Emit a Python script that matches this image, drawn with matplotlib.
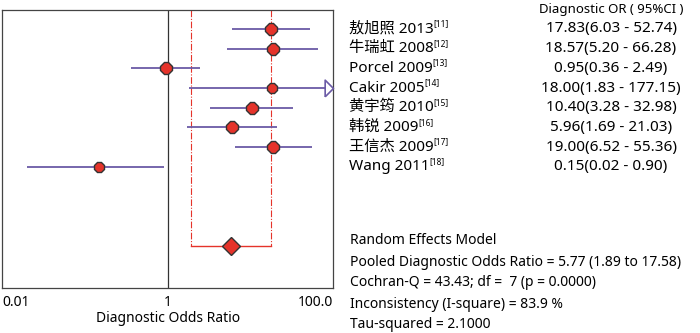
import matplotlib
matplotlib.use("Agg")
import matplotlib.pyplot as plt
import matplotlib.transforms as mtransforms

plt.rcParams['font.family'] = ['Noto Sans', 'Noto Sans CJK SC', 'DejaVu Sans']

# study data
studies = ["敖旭照 2013", "牛瑞虹 2008", "Porcel 2009", "Cakir 2005",
           "黄宇筠 2010", "韩锐 2009", "王信杰 2009", "Wang 2011"]
refs = ["[11]", "[12]", "[13]", "[14]", "[15]", "[16]", "[17]", "[18]"]
dor = [17.83, 18.57, 0.95, 18.00, 10.40, 5.96, 19.00, 0.15]
lo = [6.03, 5.20, 0.36, 1.83, 3.28, 1.69, 6.52, 0.02]
hi = [52.74, 66.28, 2.49, 177.15, 32.98, 21.03, 55.36, 0.90]
weights = [12, 12, 12, 10, 13, 12, 12, 10]

pooled = 5.77
pooled_lo = 1.89
pooled_hi = 17.58

summary_lines = [
    "Random Effects Model",
    "Pooled Diagnostic Odds Ratio = 5.77 (1.89 to 17.58)",
    "Cochran-Q = 43.43; df =  7 (p = 0.0000)",
    "Inconsistency (I-square) = 83.9 %",
    "Tau-squared = 2.1000",
]

xmin, xmax = 0.01, 100
ci_color = "#6b5ba6"
red = "#e5332a"

fig = plt.figure(figsize=(7, 3.33), dpi=100)
ax = fig.add_axes([0.003, 0.135, 0.473, 0.835])
ax.set_xscale("log")
ax.set_xlim(xmin, xmax)
ax.set_ylim(13.15, -0.96)

# null line
ax.axvline(1, color="#333333", lw=0.9)

pooled_row = 11
# pooled CI bracket
ax.plot([pooled_lo, pooled_lo], [-0.96, pooled_row], color=red, lw=0.8, ls=(0, (6, 1.5, 1, 1.5)))
ax.plot([pooled_hi, pooled_hi], [-0.96, pooled_row], color=red, lw=0.8, ls=(0, (6, 1.5, 1, 1.5)))
ax.plot([pooled_lo, pooled_hi], [pooled_row, pooled_row], color=red, lw=1.0)
ax.plot([pooled], [pooled_row], marker="D", ms=9.5, mfc=red, mec="#333333", mew=1.0)

for i in range(len(studies)):
    right = min(hi[i], xmax)
    ax.plot([lo[i], right], [i, i], color=ci_color, lw=1.3, solid_capstyle="butt")
    if hi[i] > xmax:
        ax.plot([xmax], [i], marker=[(-1, -1), (0, 0), (-1, 1), (-1, -1)], ms=12,
                mfc="white", mec=ci_color, mew=1.2, clip_on=False, zorder=4)
    ax.plot([dor[i]], [i], marker="8", ms=weights[i] * 0.72, mfc=red,
            mec="#333333", mew=1.0, zorder=5)

ax.set_yticks([])
ax.set_xticks([0.01, 1, 100])
ax.set_xticklabels(["0.01", "1", "100.0"], fontsize=10)
ax.minorticks_off()
ax.tick_params(axis="x", length=0, pad=5)
labs = ax.get_xticklabels()
labs[0].set_ha("left")
labs[2].set_ha("right")
ax.set_xlabel("Diagnostic Odds Ratio", fontsize=10, labelpad=1)
for s in ax.spines.values():
    s.set_color("#444444")
    s.set_linewidth(0.9)

# text columns on the right
trans = mtransforms.blended_transform_factory(fig.transFigure, ax.transData)
name_x = 349 / 700
val_x = 611 / 700
ax.text(val_x, -0.96, "Diagnostic OR ( 95%CI )", transform=trans, ha="center",
        va="center", fontsize=9.5, clip_on=False)
for i in range(len(studies)):
    t = ax.text(name_x, i, studies[i], transform=trans, ha="left", va="center",
                fontsize=11, clip_on=False)
    ax.annotate(refs[i], xy=(1, 0.85), xycoords=t, ha="left", va="center", fontsize=6)
    val = "{:.2f}({:.2f} - {:.2f})".format(dor[i], lo[i], hi[i])
    ax.text(val_x, i, val, transform=trans, ha="center", va="center",
            fontsize=11, clip_on=False)

for k, line in enumerate(summary_lines):
    fig.text(350 / 700, 1 - (241 + 21 * k) / 333, line, ha="left", va="center", fontsize=10)

fig.savefig("out.png", dpi=100)
